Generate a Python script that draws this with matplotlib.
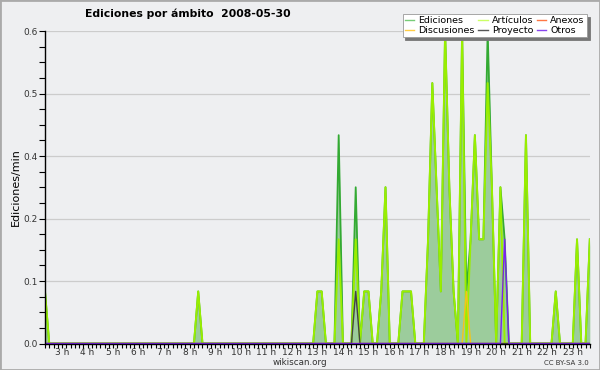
import numpy as np
import pandas as pd
import matplotlib
matplotlib.use('Agg')
import matplotlib.pyplot as plt
from matplotlib.patches import Rectangle
from matplotlib.ticker import MultipleLocator, FormatStrFormatter

# 10-minute bins, edits per minute (only non-zero bins listed)
start_time = '02:20'
end_time = '23:40'

ediciones = {
    '02:20': 0.1, '08:20': 0.1, '13:00': 0.1, '13:10': 0.1, '13:50': 0.4,
    '14:30': 0.3, '14:50': 0.1, '15:00': 0.1, '15:30': 0.1, '15:40': 0.3,
    '16:20': 0.1, '16:30': 0.1, '16:40': 0.1, '17:20': 0.2, '17:30': 0.5,
    '17:40': 0.3, '17:50': 0.1, '18:00': 0.6, '18:10': 0.3, '18:20': 0.1,
    '18:40': 0.6, '18:50': 0.1, '19:00': 0.2, '19:10': 0.4, '19:20': 0.2,
    '19:30': 0.2, '19:40': 0.6, '19:50': 0.3, '20:10': 0.3, '20:20': 0.2,
    '21:10': 0.4, '22:20': 0.1, '23:10': 0.2, '23:40': 0.2,
}
articulos = dict(ediciones)
articulos.update({'13:50': 0.2, '14:30': 0.2, '18:50': 0.0,
                  '19:40': 0.5, '20:20': 0.0})
anexos = {}
discusiones = {'18:50': 0.1}
proyecto = {'14:30': 0.1}
otros = {'20:20': 0.2}

hour_labels = [f'{h} h' for h in range(3, 24)]

# build the full time grid
grid = pd.date_range('2008-05-30 ' + start_time, '2008-05-30 ' + end_time, freq='10min')
hours = grid.hour + grid.minute / 60.0


def to_series(d):
    s = pd.Series(0.0, index=grid.strftime('%H:%M'))
    for k, v in d.items():
        s[k] = v
    return s.values


y_ed = to_series(ediciones)
y_art = to_series(articulos)
y_anx = to_series(anexos)
y_dis = to_series(discusiones)
y_pro = to_series(proyecto)
y_otr = to_series(otros)

bg = '#eeeff1'
fig = plt.figure(figsize=(6, 3.7), dpi=100, facecolor=bg)
ax = fig.add_axes([0.075, 0.0716, 0.908, 0.8446])
ax.set_facecolor(bg)

ax.fill_between(hours, 0, y_ed, color='#9ccc9c', lw=0, zorder=2)
ax.plot(hours, y_ed, color='#33aa33', lw=1.3, zorder=3)
ax.plot(hours, y_art, color='#99ee00', lw=1.4, zorder=4)
ax.plot(hours, y_anx, color='#ff7744', lw=1.0, zorder=5)
ax.plot(hours, y_dis, color='#f5c518', lw=1.0, zorder=5)
ax.plot(hours, y_pro, color='#444444', lw=1.0, zorder=5)
ax.plot(hours, y_otr, color='#7a22ee', lw=1.0, zorder=5)

ax.set_xlim(hours[0], hours[-1])
ax.set_ylim(0, 0.6)

ax.yaxis.set_major_locator(MultipleLocator(0.12))
ax.yaxis.set_minor_locator(MultipleLocator(0.03))
ax.yaxis.set_major_formatter(FormatStrFormatter('%.1f'))
ax.set_xticks(range(3, 24))
ax.set_xticklabels(hour_labels)
ax.xaxis.set_minor_locator(MultipleLocator(1 / 6))

ax.tick_params(axis='y', which='both', length=4, width=0.8, labelsize=6.5,
               labelcolor='#333333', pad=1)
ax.tick_params(axis='x', which='both', length=3, width=0.8, labelsize=6.5,
               labelcolor='#333333', pad=0.5)
ax.grid(axis='y', which='major', color='#cccccc', lw=0.9, zorder=0)
ax.set_axisbelow(True)
for side in ['top', 'right']:
    ax.spines[side].set_visible(False)
for side in ['left', 'bottom']:
    ax.spines[side].set_linewidth(1.0)
    ax.spines[side].set_zorder(10)

ax.set_ylabel('Ediciones/min', fontsize=8, labelpad=2)
fig.text(0.313, 0.962, 'Ediciones por ámbito  2008-05-30', ha='center', va='center',
         fontsize=7.8, fontweight='bold')
fig.text(0.5, 0.02, 'wikiscan.org', ha='center', va='center', fontsize=6.3,
         color='#333333')
fig.text(0.982, 0.02, 'CC BY-SA 3.0', ha='right', va='center', fontsize=5,
         color='#333333')

# legend (column-major order)
names = ['Ediciones', 'Discusiones', 'Artículos', 'Proyecto', 'Anexos', 'Otros']
colors = ['#77cc77', '#ffcc44', '#ccff66', '#555555', '#ff7744', '#8844ee']
handles = [plt.Line2D([], [], color=c, lw=1.0) for c in colors]
leg = fig.legend(handles, names, ncol=3, loc='upper right',
                 bbox_to_anchor=(0.986, 0.975), fontsize=6.8, frameon=True,
                 fancybox=False, edgecolor='#999999', facecolor='white',
                 framealpha=1, handlelength=1.0, handletextpad=0.4,
                 columnspacing=0.4, labelspacing=0.05, borderpad=0.25,
                 shadow={'color': '#777777', 'alpha': 1})
leg.get_frame().set_linewidth(0.6)

fig.patches.append(Rectangle((0, 0), 1, 1, transform=fig.transFigure,
                             fill=False, edgecolor='#aaaaaa', lw=2))

fig.savefig('out.png', dpi=100, facecolor=bg)
